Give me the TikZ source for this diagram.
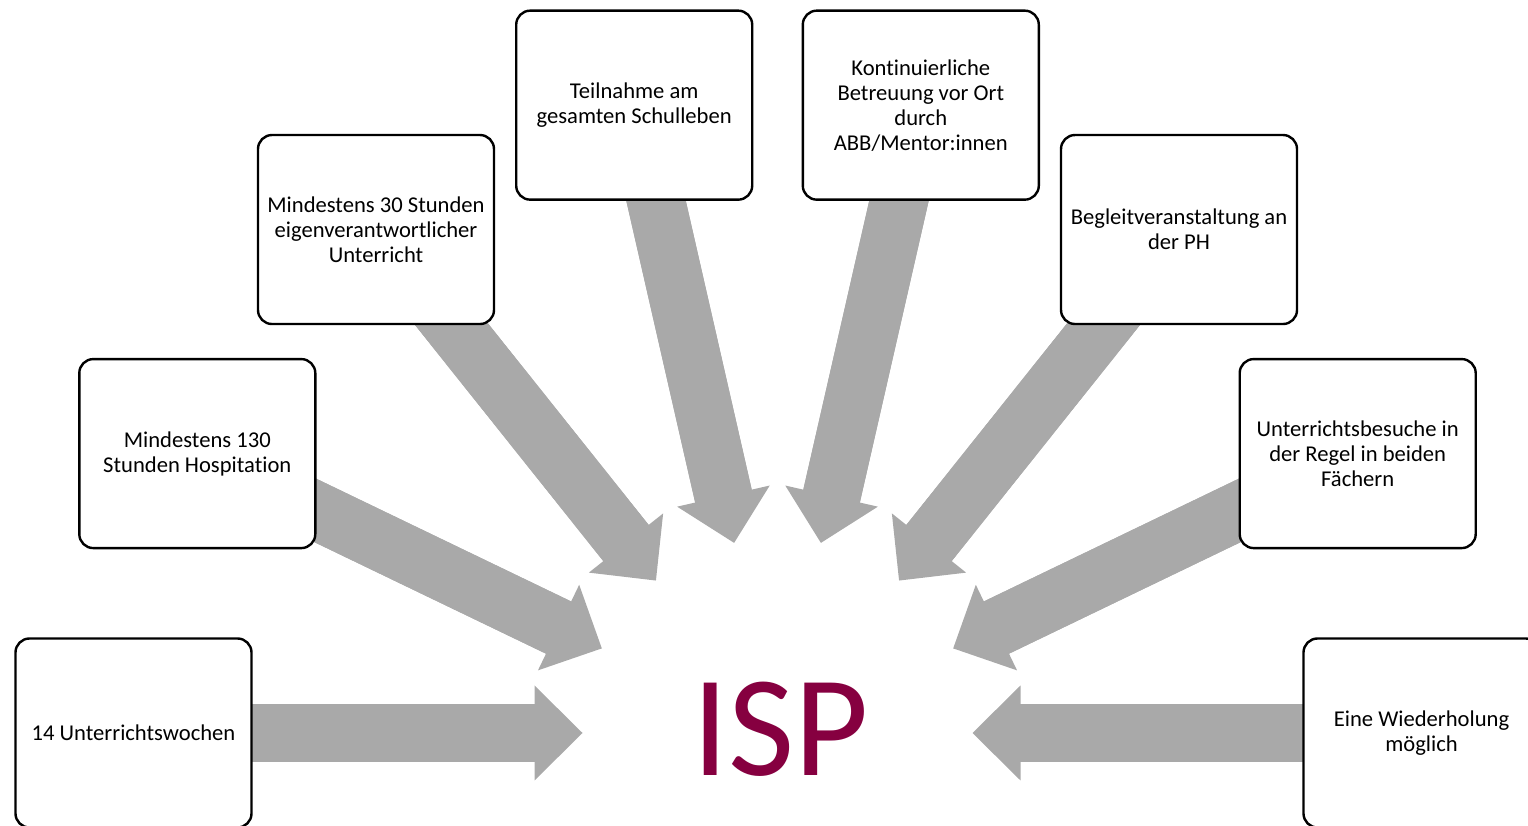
\documentclass[tikz,border=0pt]{standalone}
\usepackage{fontspec}
\setmainfont{Carlito}[Ligatures={NoCommon,NoRare}]
\usetikzlibrary{arrows.meta}
\definecolor{arrowgray}{RGB}{169,169,169}
\definecolor{ispred}{RGB}{134,0,64}
\pgfdeclarelayer{background}
\pgfsetlayers{background,main}
\begin{document}
\begin{tikzpicture}[x=1pt,y=1pt,
  infobox/.style={draw=black, line width=2.4pt, rounded corners=14pt, fill=white,
    minimum width=236pt, minimum height=189pt, align=center, inner sep=4pt,
    font=\fontsize{22.6}{25}\selectfont},
  bigarrow/.style={draw=arrowgray, line width=58pt, shorten >=195pt,
    -{Triangle[width=95pt,length=48pt,line width=0pt,fill=arrowgray]}},
  shaftfill/.style={draw=arrowgray, line width=58pt, shorten >=237pt},
  isplabel/.style={text=ispred, font=\fontsize{144}{150}\selectfont, inner sep=0pt}]
\useasboundingbox (0,0) rectangle (1528,826);
\clip (0,0) rectangle (1528,826);
\coordinate (C) at (777.5,93);
\node[infobox] (b1) at ([shift={(C)}]180:644pt) {14 Unterrichtswochen};
\node[infobox] (b2) at ([shift={(C)}]154.2857:644pt) {Mindestens 130\\Stunden Hospitation};
\node[infobox] (b3) at ([shift={(C)}]128.5714:644pt) {Mindestens 30 Stunden\\eigenverantwortlicher\\Unterricht};
\node[infobox] (b4) at ([shift={(C)}]102.8571:644pt) {Teilnahme am\\gesamten Schulleben};
\node[infobox] (b5) at ([shift={(C)}]77.1429:644pt) {Kontinuierliche\\Betreuung vor Ort\\durch\\ABB/Mentor:innen};
\node[infobox] (b6) at ([shift={(C)}]51.4286:644pt) {Begleitveranstaltung an\\der PH};
\node[infobox] (b7) at ([shift={(C)}]25.7143:644pt) {Unterrichtsbesuche in\\der Regel in beiden\\Fächern};
\node[infobox] (b8) at ([shift={(C)}]0:644pt) {Eine Wiederholung\\möglich};
\node[isplabel, anchor=base] (isp) at (781,50) {ISP};
\begin{pgfonlayer}{background}
\foreach \i in {1,...,8} {
  \draw[bigarrow] (b\i.center) -- (C);
  \draw[shaftfill] (b\i.center) -- (C);
}
\end{pgfonlayer}
\end{tikzpicture}
\end{document}
